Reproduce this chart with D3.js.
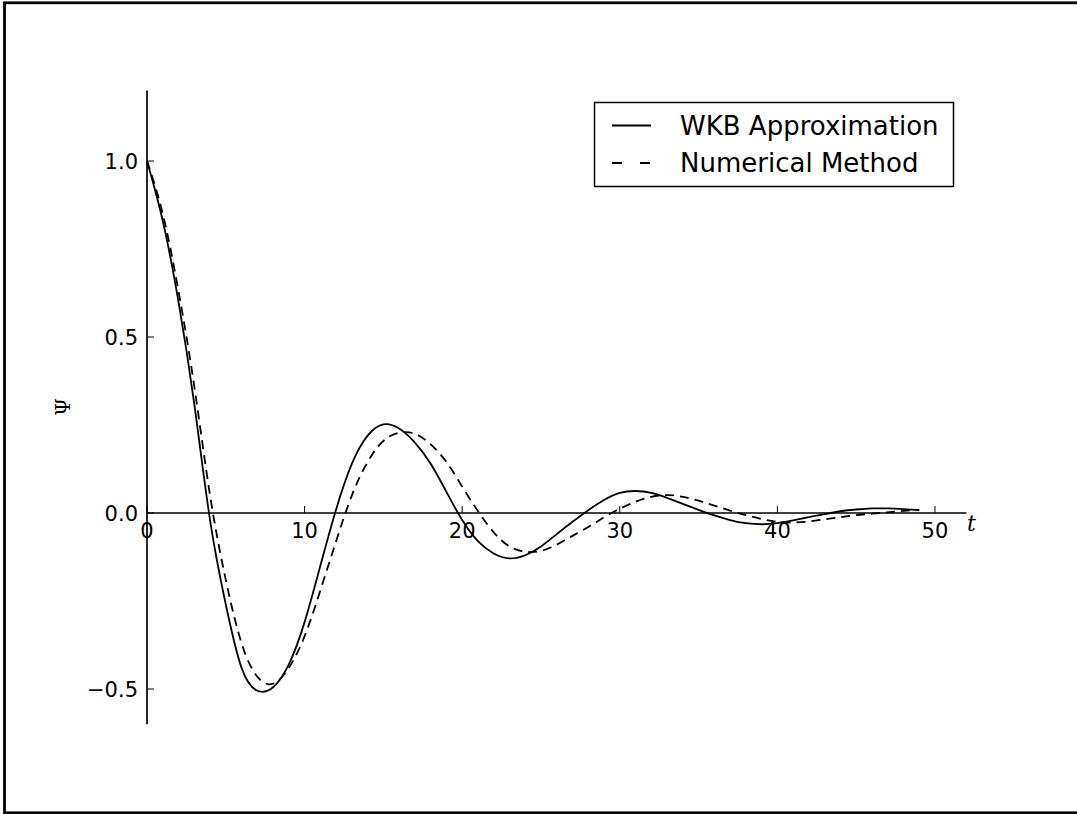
<!DOCTYPE html>
<html>
<head>
<meta charset="utf-8">
<script src="https://cdn.jsdelivr.net/npm/d3@7"></script>
<style>
  body { margin: 0; background: #fff; }
  svg { display: block; }
</style>
</head>
<body>
<script>
// time samples (t = 0..49) and the two curves
var tValues = d3.range(0, 50);
var wkbValues = [1.0, 0.83, 0.60, 0.31, -0.02, -0.26, -0.44, -0.505, -0.495, -0.43,
  -0.31, -0.15, 0.01, 0.14, 0.22, 0.252, 0.24, 0.20, 0.14, 0.06,
  -0.02, -0.08, -0.115, -0.129, -0.12, -0.095, -0.06, -0.025, 0.008, 0.037,
  0.057, 0.0625, 0.057, 0.043, 0.026, 0.009, -0.007, -0.02, -0.029, -0.032,
  -0.029, -0.021, -0.012, -0.003, 0.005, 0.010, 0.013, 0.013, 0.011, 0.008];
var numValues = [1.0, 0.85, 0.63, 0.36, 0.05, -0.19, -0.37, -0.465, -0.485, -0.44,
  -0.35, -0.22, -0.08, 0.05, 0.145, 0.205, 0.228, 0.225, 0.195, 0.145,
  0.075, 0.005, -0.055, -0.095, -0.11, -0.108, -0.09, -0.065, -0.04, -0.012,
  0.012, 0.032, 0.046, 0.051, 0.046, 0.035, 0.021, 0.007, -0.006, -0.017,
  -0.025, -0.027, -0.024, -0.018, -0.012, -0.006, -0.002, 0.002, 0.006, 0.009];
var xTicks = [0, 10, 20, 30, 40, 50];
var yTicks = [-0.5, 0.0, 0.5, 1.0];
var seriesNames = ['WKB Approximation', 'Numerical Method'];

var width = 1077, height = 814;
var svg = d3.select('body').append('svg').attr('width', width).attr('height', height);

// figure frame
svg.append('rect')
    .attr('x', 4.5).attr('y', 2.8)
    .attr('width', 1100).attr('height', 810)
    .attr('fill', 'none').attr('stroke', '#000').attr('stroke-width', 2.8);

var x = d3.scaleLinear().domain([0, 52]).range([147, 966.5]);
var y = d3.scaleLinear().domain([-0.6, 1.2]).range([724.2, 90.6]);

/*SPINES*/
svg.append('line')
    .attr('x1', x(0)).attr('x2', x(0))
    .attr('y1', y(1.2)).attr('y2', y(-0.6))
    .attr('stroke', '#000').attr('stroke-width', 1.7);
svg.append('line')
    .attr('x1', x(0)).attr('x2', x(52))
    .attr('y1', y(0)).attr('y2', y(0))
    .attr('stroke', '#000').attr('stroke-width', 1.7);

/*TICKS*/
svg.selectAll('line.xtick')
    .data(xTicks)
    .enter().append('line')
        .attr('class', 'xtick')
        .attr('x1', function(d) { return x(d); })
        .attr('x2', function(d) { return x(d); })
        .attr('y1', y(0)).attr('y2', y(0) - 7)
        .attr('stroke', '#000').attr('stroke-width', 1);
svg.selectAll('text.xlab')
    .data(xTicks)
    .enter().append('text')
        .attr('class', 'xlab')
        .attr('x', function(d) { return x(d); })
        .attr('y', y(0) + 25)
        .attr('text-anchor', 'middle')
        .attr('font-family', 'DejaVu Sans')
        .attr('font-size', 21)
        .text(function(d) { return d; });

svg.selectAll('line.ytick')
    .data(yTicks)
    .enter().append('line')
        .attr('class', 'ytick')
        .attr('x1', x(0)).attr('x2', x(0) + 7)
        .attr('y1', function(d) { return y(d); })
        .attr('y2', function(d) { return y(d); })
        .attr('stroke', '#000').attr('stroke-width', 1);
svg.selectAll('text.ylab')
    .data(yTicks)
    .enter().append('text')
        .attr('class', 'ylab')
        .attr('x', x(0) - 9)
        .attr('y', function(d) { return y(d) + 7.5; })
        .attr('text-anchor', 'end')
        .attr('font-family', 'DejaVu Sans')
        .attr('font-size', 21)
        .text(function(d) { return d3.format('.1f')(d).replace('-', '\u2212'); });

/*AXIS LABELS*/
svg.append('text')
    .attr('x', 967).attr('y', 531)
    .attr('font-family', 'DejaVu Serif')
    .attr('font-style', 'italic')
    .attr('font-size', 22)
    .text('t');
svg.append('text')
    .attr('transform', 'translate(70,407) rotate(-90)')
    .attr('text-anchor', 'middle')
    .attr('font-family', 'DejaVu Serif')
    .attr('font-size', 20)
    .text('\u03A8');

/*CURVES*/
var line = d3.line()
    .x(function(d) { return x(d[0]); })
    .y(function(d) { return y(d[1]); })
    .curve(d3.curveNatural);

svg.append('path')
    .datum(d3.zip(tValues, wkbValues))
    .attr('d', line)
    .attr('fill', 'none').attr('stroke', '#000').attr('stroke-width', 1.8);
svg.append('path')
    .datum(d3.zip(tValues, numValues))
    .attr('d', line)
    .attr('fill', 'none').attr('stroke', '#000').attr('stroke-width', 1.8)
    .attr('stroke-dasharray', '9,6');

/*LEGEND*/
var legend = svg.append('g');
legend.append('rect')
    .attr('x', 594.5).attr('y', 102.5)
    .attr('width', 359).attr('height', 84)
    .attr('fill', '#fff').attr('stroke', '#000').attr('stroke-width', 1.5);
legend.selectAll('line')
    .data(seriesNames)
    .enter().append('line')
        .attr('x1', 612).attr('x2', 651)
        .attr('y1', function(d, i) { return 125.5 + i * 37.5; })
        .attr('y2', function(d, i) { return 125.5 + i * 37.5; })
        .attr('stroke', '#000').attr('stroke-width', 1.8)
        .attr('stroke-dasharray', function(d, i) { return i ? '10,18' : null; });
legend.selectAll('text')
    .data(seriesNames)
    .enter().append('text')
        .attr('x', 680)
        .attr('y', function(d, i) { return 134.5 + i * 37.5; })
        .attr('font-family', 'DejaVu Sans')
        .attr('font-size', 26)
        .text(function(d) { return d; });
</script>
</body>
</html>
